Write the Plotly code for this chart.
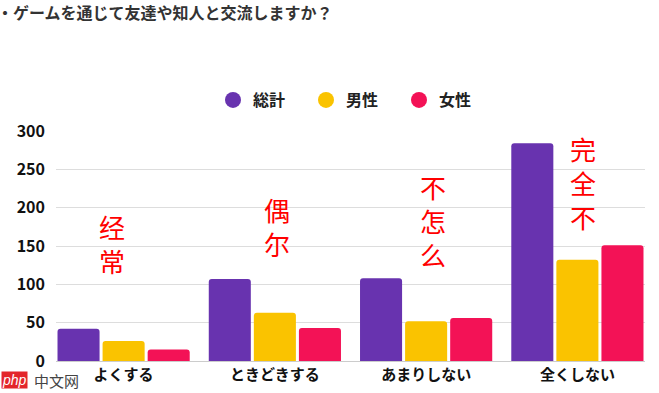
import plotly.graph_objects as go

categories = ["よくする", "ときどきする", "あまりしない", "全くしない"]
series_names = ["総計", "男性", "女性"]
total = [42, 107, 108, 284]
male = [26, 63, 52, 132]
female = [15, 43, 56, 151]
colors = ["#6833AF", "#FAC300", "#F31256"]
y_ticks = [0, 50, 100, 150, 200, 250, 300]

note_texts = ["经常", "偶尔", "不怎么", "完全不"]
note_tops = [195, 217, 246, 296]
note_shift = [-12, 2, 7, 6]

title_text = "・ゲームを通じて友達や知人と交流しますか？"

JP = "Noto Sans CJK JP"
fig = go.Figure()
for name, vals, col in zip(series_names, [total, male, female], colors):
    fig.add_trace(go.Bar(x=categories, y=vals, name=name, marker=dict(color=col, line=dict(width=0), cornerradius=3),
                         showlegend=False, hoverinfo="skip"))
for name, col in zip(series_names, colors):
    fig.add_trace(go.Scatter(x=[None], y=[None], mode="markers", name=name,
                             marker=dict(color=col, size=16, symbol="circle")))

annotations = []
for i, (t, top, sh) in enumerate(zip(note_texts, note_tops, note_shift)):
    annotations.append(dict(x=categories[i], y=top, xref="x", yref="y", text="<br>".join(list(t)),
                            showarrow=False, yanchor="top", xanchor="center", xshift=sh, yshift=6,
                            font=dict(family="Noto Sans CJK SC", size=26, color="#FF0000")))
annotations.append(dict(x=-0.104, y=1.0, xref="paper", yref="paper", yanchor="middle", xanchor="left",
                        yshift=119, text=title_text, showarrow=False,
                        font=dict(family=JP, size=16, color="#333333", weight="bold")))
annotations.append(dict(x=-0.093, y=0, xref="paper", yref="paper", xanchor="left", yanchor="middle",
                        yshift=-19, text="<i>php</i>", showarrow=False, bgcolor="#E3262A", borderpad=0,
                        font=dict(family="Liberation Sans", size=14, color="white")))
annotations.append(dict(x=-0.04, y=0, xref="paper", yref="paper", xanchor="left", yanchor="middle",
                        yshift=-19, text="中文网", showarrow=False,
                        font=dict(family="Noto Sans CJK SC", size=15, color="#444444")))

fig.update_layout(
    width=659, height=393,
    margin=dict(l=56, r=14, t=131, b=32, autoexpand=False),
    paper_bgcolor="white", plot_bgcolor="white",
    barmode="group", bargap=0.106, bargroupgap=0.067,
    legend=dict(orientation="h", x=(213 - 56) / 589, xanchor="left", y=1 - 100 / 393, yanchor="middle",
                xref="paper", yref="container",
                font=dict(family=JP, size=16, color="#222222", weight="bold"),
                entrywidth=48, entrywidthmode="pixels", itemclick=False),
    annotations=annotations,
    font=dict(family=JP),
)
fig.update_xaxes(range=[-0.447, 3.447], showgrid=False, showline=True, linecolor="#cccccc", linewidth=1,
                 ticks="", automargin=False,
                 tickfont=dict(family=JP, size=15, color="#111111", weight="bold"))
fig.update_yaxes(range=[0, 300], tickvals=y_ticks, showgrid=True, gridcolor="#dddddd", gridwidth=1,
                 zeroline=False, ticks="", ticklabelstandoff=10, automargin=False,
                 tickfont=dict(family=JP, size=16, color="#111111", weight="bold"))

fig.write_html("out.html", config={"displayModeBar": False},
               post_script="document.body.style.margin='0';document.body.style.overflow='hidden';")
